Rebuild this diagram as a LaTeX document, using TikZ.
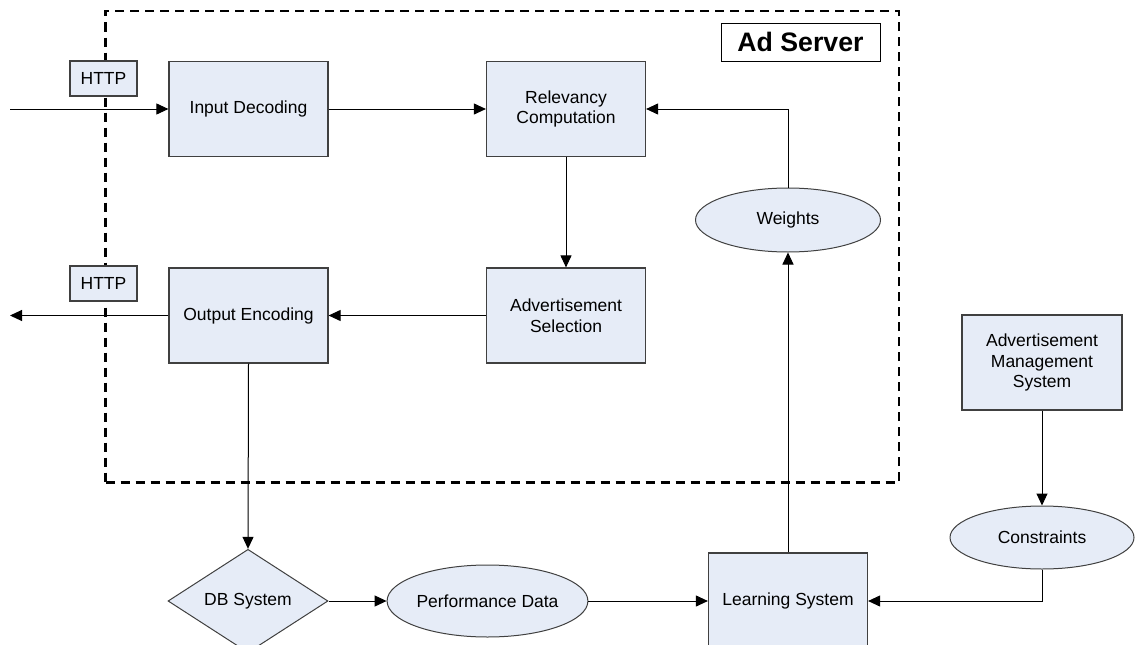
\documentclass[tikz,border=0pt]{standalone}
\usepackage{fontspec}
\setmainfont{Liberation Sans}
\usetikzlibrary{arrows.meta}
\usetikzlibrary{shapes.geometric}
\usetikzlibrary{positioning}
\definecolor{boxfill}{RGB}{230,236,247}
\definecolor{boxline}{RGB}{64,64,64}

\begin{document}
\begin{tikzpicture}[
    x=1pt, y=-1pt,
    block/.style={rectangle, draw=boxline, line width=1.2pt, fill=boxfill, minimum width=159pt, minimum height=95pt, inner sep=0pt, align=center},
    store/.style={ellipse, draw=boxline, line width=1pt, fill=boxfill, inner sep=0pt},
    tag/.style={rectangle, draw=boxline, line width=1.2pt, fill=boxfill, minimum width=67pt, minimum height=35pt, inner sep=0pt},
    serverbox/.style={rectangle, draw=black, line width=2.6pt, dash pattern=on 9pt off 6pt, minimum width=793.5pt, minimum height=471.5pt, inner sep=0pt},
    link/.style={line width=1pt, -{Triangle[length=12pt, width=11pt]}},
    font=\fontsize{17.5}{20.5}\selectfont
]
\useasboundingbox (0,0) rectangle (1135,645);

% --- Ad server frame ---
\node[serverbox] (server) at (502.25,246.75) {};
\node[rectangle, draw=black, line width=1pt, fill=white, minimum width=159pt, minimum height=38pt, inner sep=0pt,
      font=\fontsize{26.7}{30}\selectfont\bfseries] (adserver) at (800.5,42) {Ad Server};

% --- Inside the server ---
\node[block] (indec) at (248.5,109) {Input Decoding};
\node[block] (relcomp) at (566,109) {Relevancy\\Computation};
\node[block] (outenc) at (248.5,315.5) {Output Encoding};
\node[block] (adsel) at (566,315.5) {Advertisement\\Selection};
\node[store, minimum width=185pt, minimum height=64pt] (weights) at (788,220) {Weights};

% --- HTTP tags ---
\node[tag] (http1) at (103.5,78.5) {HTTP};
\node[tag] (http2) at (103.5,283.5) {HTTP};

% --- Outside the server ---
\node[diamond, draw=boxline, line width=1pt, fill=boxfill, inner sep=0pt, minimum width=160pt, minimum height=96pt] (db) at (248,601) {DB System};
\node[store, minimum width=161pt, minimum height=72pt] (perf) at (487.5,601) {Performance Data};
\node[block, minimum height=96pt] (learn) at (788,601) {Learning System};
\node[block, minimum width=160pt] (ams) at (1042,362.5) {Advertisement\\Management\\System};
\node[store, minimum width=184pt, minimum height=63pt] (constr) at (1042,537.5) {Constraints};

% --- Free ends ---
\coordinate (req) at (10,109);
\coordinate (resp) at (10,315.5);

% --- Connections ---
\draw[link] (req) -- (indec.west);
\draw[link] (indec.east) -- (relcomp.west);
\draw[link] (relcomp.south) -- (adsel.north);
\draw[link] (adsel.west) -- (outenc.east);
\draw[link] (outenc.west) -- (resp);
\draw[link] (outenc.south) -- (db.north);
\draw[link] (db.east) -- (perf.west);
\draw[link] (perf.east) -- (learn.west);
\draw[link] (learn.north) -- (weights.south);
\draw[link] (weights.north) |- (relcomp.east);
\draw[link] (ams.south) -- (constr.north);
\draw[link] (constr.south) |- (learn.east);

\end{tikzpicture}
\end{document}
